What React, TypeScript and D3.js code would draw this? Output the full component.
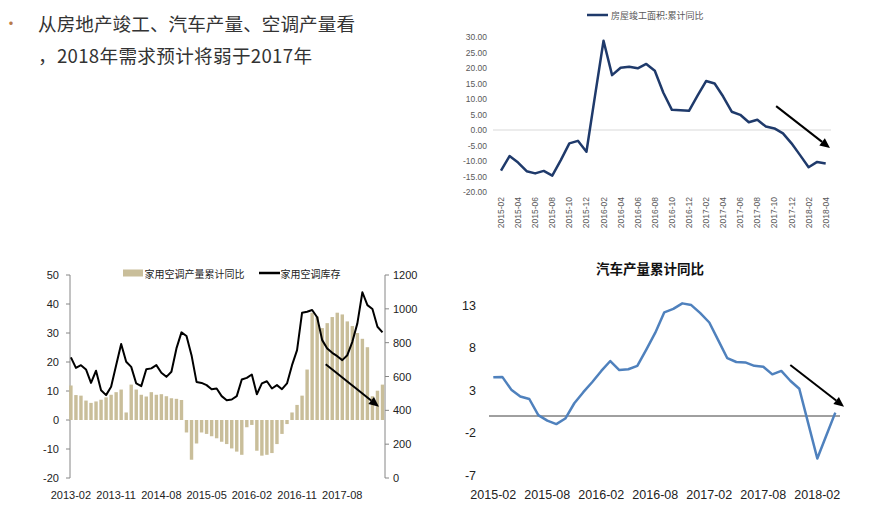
import React from "react";
import * as d3 from "d3";

// ---------- helpers ----------
function monthRange(start: string, n: number): string[] {
  const [y0, m0] = start.split("-").map(Number);
  const out: string[] = [];
  for (let i = 0; i < n; i++) {
    const t = (m0 - 1) + i;
    const y = y0 + Math.floor(t / 12);
    const m = (t % 12) + 1;
    out.push(`${y}-${String(m).padStart(2, "0")}`);
  }
  return out;
}

// ---------- data: header ----------
const headerLine1 = "从房地产竣工、汽车产量、空调产量看";
const headerLine2 = "，2018年需求预计将弱于2017年";

// ---------- data: 房屋竣工面积 ----------
const houseTitle = "房屋竣工面积:累计同比";
const houseMonths = monthRange("2015-02", 39);
const houseYoY = [
  -13.1, -8.4, -10.5, -13.3, -14.0, -13.2, -14.7, -9.7, -4.3, -3.5, -7.0,
  11.0, 28.8, 17.7, 20.1, 20.4, 19.9, 21.3, 19.1, 12.0, 6.5, 6.4, 6.2,
  11.1, 15.8, 15.0, 10.8, 5.9, 4.9, 2.5, 3.3, 1.1, 0.5, -1.1, -4.3,
  -8.1, -12.0, -10.3, -10.8,
];
const houseYTicks = [30, 25, 20, 15, 10, 5, 0, -5, -10, -15, -20];
const houseArrow = [[32.2, 7.7], [38.5, -5.8]];

// ---------- data: 家用空调 ----------
const acLegendBar = "家用空调产量累计同比";
const acLegendLine = "家用空调库存";
const acMonths = monthRange("2013-02", 63);
const acYoY = [
  11.9, 8.6, 8.4, 6.7, 5.9, 6.4, 7.0, 7.8, 8.7, 9.6, 10.5, 2.6, 12.2, 10.5, 8.7, 8.1, 9.6, 8.7, 8.9, 8.2, 7.5, 7.3, 6.9,
  -4.3, -13.7, -8.1, -4.3, -4.8, -5.6, -6.3, -7.5, -8.3, -9.8, -10.9, -12.0, -2.5, -1.7, -10.6, -12.3, -12.0, -11.4, -8.3, -4.8, -1.4,
  2.6, 5.2, 8.4, 17.4, 37.0, 35.7, 31.7, 33.4, 35.5, 37.0, 36.4, 34.0, 32.4, 30.0, 28.0, 25.1, 8.2, 10.1, 12.2,
];
const acStock = [
  713, 651, 667, 642, 562, 634, 519, 490, 539, 667,
  792, 687, 657, 559, 543, 643, 648, 667, 622, 598,
  628, 766, 861, 839, 726, 568, 562, 549, 525, 529,
  484, 460, 464, 484, 582, 592, 612, 495, 559, 572,
  529, 549, 525, 559, 667, 756, 977, 983, 993, 950,
  815, 766, 740, 720, 697, 726, 805, 914, 1098, 1022,
  999, 894, 861,
];
const acLeftTicks = [50, 40, 30, 20, 10, 0, -10, -20];
const acRightTicks = [1200, 1000, 800, 600, 400, 200, 0];
const acXTicks = ["2013-02", "2013-11", "2014-08", "2015-05", "2016-02", "2016-11", "2017-08"];
const acArrow = [[50.7, 19.2], [61.3, 4.55]];

// ---------- data: 汽车产量 ----------
const carTitle = "汽车产量累计同比";
const carMonths = monthRange("2015-02", 39);
const carYoY = [
  4.55, 4.6, 3.1, 2.3, 2.0, 0.1, -0.55, -0.95, -0.3, 1.5,
  2.8, 4.0, 5.3, 6.47, 5.4, 5.5, 5.9, 7.8, 9.8, 12.2,
  12.6, 13.25, 13.05, 12.1, 11.0, 8.9, 6.8, 6.35, 6.3, 5.9,
  5.8, 4.9, 5.3, 4.15, 3.2, -0.9, -5.0, -2.3, 0.4,
];
const carYTicks = [13, 8, 3, -2, -7];
const carXTicks = ["2015-02", "2015-08", "2016-02", "2016-08", "2017-02", "2017-08", "2018-02"];
const carArrow = [[33.0, 6.0], [38.97, 1.1]];

// ---------- styles ----------
const FONT_CJK = "'Noto Sans CJK SC', 'Noto Sans', sans-serif";
const FONT_NUM = "'Liberation Sans Narrow', 'Liberation Sans', Arial, sans-serif";
const FONT_SMALL = "'Liberation Sans', Arial, sans-serif";

function Arrow({ x1, y1, x2, y2 }: { x1: number; y1: number; x2: number; y2: number }) {
  const ang = Math.atan2(y2 - y1, x2 - x1);
  const L = 10, Wd = 4.5;
  const bx = x2 - L * Math.cos(ang), by = y2 - L * Math.sin(ang);
  const px = -Math.sin(ang) * Wd, py = Math.cos(ang) * Wd;
  return (
    <g>
      <line x1={x1} y1={y1} x2={bx} y2={by} stroke="#000" strokeWidth={2} />
      <polygon points={`${x2},${y2} ${bx + px},${by + py} ${bx - px},${by - py}`} fill="#000" />
    </g>
  );
}

export default function App() {
  // ---- house chart ----
  const hx = d3.scaleLinear().domain([0, houseMonths.length - 1]).range([501, 825.7]);
  const hy = d3.scaleLinear().domain([-20, 30]).range([192, 37]);
  const hLine = d3.line<number>().x((_, i) => hx(i)).y((d) => hy(d));

  // ---- AC chart ----
  const ax = d3.scaleBand<number>().domain(acMonths.map((_, i) => i)).range([69.2, 384.2]).paddingInner(0.32);
  const ayL = d3.scaleLinear().domain([-20, 50]).range([478, 275]);
  const ayR = d3.scaleLinear().domain([0, 1200]).range([478, 275]);
  const axC = (i: number) => (ax(i) as number) + ax.bandwidth() / 2;
  const aStep = ax.step();
  const axF = (v: number) => axC(0) + v * aStep;
  const aLine = d3.line<number>().x((_, i) => axC(i)).y((d) => ayR(d));

  // ---- car chart ----
  const cx = d3.scaleLinear().domain([0, carMonths.length - 1]).range([493.3, 835.3]);
  const cy = d3.scaleLinear().domain([-7, 13]).range([475.5, 305.5]);
  const cLine = d3.line<number>().x((_, i) => cx(i)).y((d) => cy(d));

  return (
    <svg width={870} height={511} style={{ position: "absolute", left: 0, top: 0, background: "#fff" }}>
      {/* header */}
      <text x={11} y={22} fontSize={16} fill="#B97A4A" fontFamily={FONT_CJK} textAnchor="middle" dominantBaseline="central">•</text>
      <text x={38} y={22} fontSize={18.6} fill="#333" fontFamily={FONT_CJK} dominantBaseline="central" textLength={317} lengthAdjust="spacing">{headerLine1}</text>
      <text x={38} y={54} fontSize={18.6} fill="#333" fontFamily={FONT_CJK} dominantBaseline="central" textLength={274} lengthAdjust="spacing">{headerLine2}</text>

      {/* ===== house completion chart ===== */}
      <g>
        <line x1={587} x2={608} y1={15} y2={15} stroke="#1F3A6B" strokeWidth={2.5} />
        <text x={611} y={15} fontSize={9} fill="#595959" fontFamily={FONT_CJK} dominantBaseline="central">{houseTitle}</text>
        <line x1={493} x2={831} y1={hy(0)} y2={hy(0)} stroke="#D9D9D9" strokeWidth={1} />
        {houseYTicks.map((t) => (
          <text key={t} x={487} y={hy(t)} fontSize={8.5} fill="#595959" fontFamily={FONT_SMALL} textAnchor="end" dominantBaseline="central">
            {t.toFixed(2)}
          </text>
        ))}
        {houseMonths.map((m, i) =>
          i % 2 === 0 ? (
            <text key={m} transform={`translate(${hx(i) + 3},197) rotate(-90)`} fontSize={8.5} fill="#595959" fontFamily={FONT_SMALL} textAnchor="end">
              {m}
            </text>
          ) : null
        )}
        <path d={hLine(houseYoY) || ""} fill="none" stroke="#1F3A6B" strokeWidth={2.5} strokeLinejoin="round" />
        <Arrow x1={hx(houseArrow[0][0])} y1={hy(houseArrow[0][1])} x2={hx(houseArrow[1][0])} y2={hy(houseArrow[1][1])} />
      </g>

      {/* ===== AC chart ===== */}
      <g>
        {/* legend */}
        <rect x={123} y={269.5} width={20} height={7} fill="#C9BE9A" />
        <text x={144.5} y={273} fontSize={10} fill="#222" fontFamily={FONT_CJK} dominantBaseline="central">{acLegendBar}</text>
        <line x1={259} x2={280} y1={273} y2={273} stroke="#000" strokeWidth={2.5} />
        <text x={280.5} y={273} fontSize={10} fill="#222" fontFamily={FONT_CJK} dominantBaseline="central">{acLegendLine}</text>

        {/* axes */}
        <line x1={70} x2={70} y1={275} y2={478} stroke="#868686" strokeWidth={1} />
        {acLeftTicks.map((t) => (
          <g key={t}>
            <line x1={66} x2={70} y1={ayL(t)} y2={ayL(t)} stroke="#868686" />
            <text x={59} y={ayL(t)} fontSize={11} fill="#222" fontFamily={FONT_NUM} textAnchor="end" dominantBaseline="central">{t}</text>
          </g>
        ))}
        <line x1={385} x2={385} y1={275} y2={478} stroke="#868686" strokeWidth={1} />
        {acRightTicks.map((t) => (
          <g key={t}>
            <line x1={385} x2={389} y1={ayR(t)} y2={ayR(t)} stroke="#868686" />
            <text x={393} y={ayR(t)} fontSize={11} fill="#222" fontFamily={FONT_NUM} textAnchor="start" dominantBaseline="central">{t}</text>
          </g>
        ))}
        {acXTicks.map((m) => {
          const i = acMonths.indexOf(m);
          return (
            <text key={m} x={axC(i)} y={495} fontSize={11} fill="#222" fontFamily={FONT_NUM} textAnchor="middle" dominantBaseline="central">{m}</text>
          );
        })}

        {/* bars */}
        {acYoY.map((v, i) => (
          <rect
            key={i}
            x={ax(i) as number}
            width={ax.bandwidth()}
            y={Math.min(ayL(v), ayL(0))}
            height={Math.abs(ayL(v) - ayL(0))}
            fill="#C9BE9A"
          />
        ))}
        {/* stock line */}
        <path d={aLine(acStock) || ""} fill="none" stroke="#000" strokeWidth={2} strokeLinejoin="round" />
        <Arrow x1={axF(acArrow[0][0])} y1={ayL(acArrow[0][1])} x2={axF(acArrow[1][0])} y2={ayL(acArrow[1][1])} />
      </g>

      {/* ===== car chart ===== */}
      <g>
        <text x={650} y={268} fontSize={13.5} fontWeight="bold" fill="#111" fontFamily={FONT_CJK} textAnchor="middle" dominantBaseline="central">{carTitle}</text>
        {carYTicks.map((t) => (
          <text key={t} x={476} y={cy(t)} fontSize={12.5} fill="#222" fontFamily={FONT_NUM} textAnchor="end" dominantBaseline="central">{t}</text>
        ))}
        {carXTicks.map((m) => {
          const i = carMonths.indexOf(m);
          return (
            <text key={m} x={cx(i)} y={495} fontSize={12.5} fill="#222" fontFamily={FONT_NUM} textAnchor="middle" dominantBaseline="central">{m}</text>
          );
        })}
        <line x1={489} x2={840} y1={cy(0)} y2={cy(0)} stroke="#404040" strokeWidth={1} />
        <path d={cLine(carYoY) || ""} fill="none" stroke="#4F81BD" strokeWidth={2.5} strokeLinejoin="round" />
        <Arrow x1={cx(carArrow[0][0])} y1={cy(carArrow[0][1])} x2={cx(carArrow[1][0])} y2={cy(carArrow[1][1])} />
      </g>
    </svg>
  );
}
